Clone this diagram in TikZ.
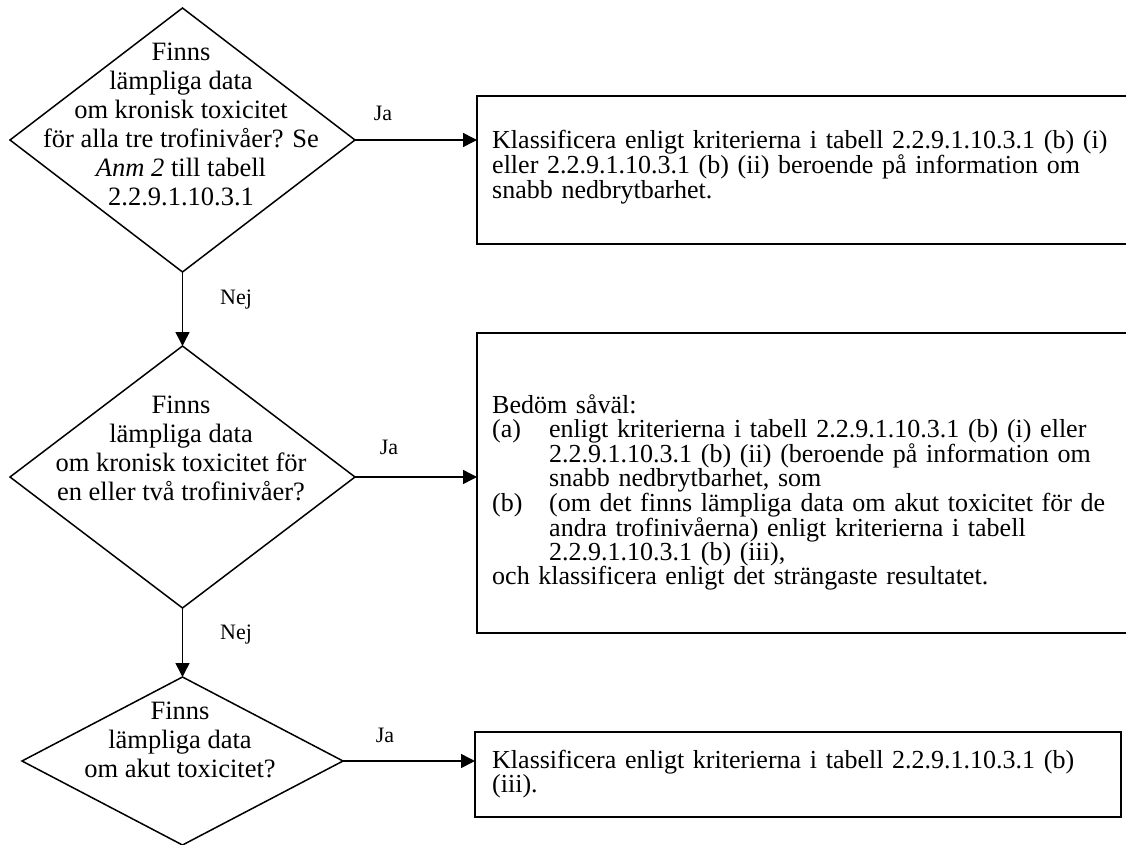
\documentclass[tikz,border=0pt]{standalone}
\usepackage{fontspec}
\setmainfont{Liberation Serif}
\usetikzlibrary{shapes.geometric,arrows.meta}
\begin{document}
\begin{tikzpicture}[x=1pt,y=-1pt,
  dia/.style={draw, diamond, line width=1.5pt, inner sep=0pt, outer sep=0pt},
  dtext/.style={anchor=north, inner sep=0pt, align=center, font=\fontsize{26.5}{29}\selectfont},
  box/.style={draw, line width=2pt, inner sep=0pt, outer sep=0pt, anchor=north west},
  btext/.style={anchor=north west, inner sep=0pt, align=left, font=\fontsize{26}{24.2}\selectfont},
  conn/.style={line width=1.5pt, -{Triangle[length=14pt,width=14pt]}},
  lbl/.style={inner sep=0pt, font=\fontsize{22}{24}\selectfont}]
\useasboundingbox (0,0) rectangle (1126,845);

% decision diamonds
\node[dia, minimum width=345pt, minimum height=264pt] (d1) at (182.5,140) {};
\node[dia, minimum width=345pt, minimum height=262pt] (d2) at (182.5,477) {};
\node[dia, minimum width=321pt, minimum height=168pt] (d3) at (182.5,761) {};

\node[dtext] (q1) at (181,43) {Finns\\lämpliga data\\om kronisk toxicitet\\för alla tre trofinivåer? Se\\\textit{Anm 2} till tabell\\2.2.9.1.10.3.1};
\node[dtext] (q2) at (181,396) {Finns\\lämpliga data\\om kronisk toxicitet för\\en eller två trofinivåer?};
\node[dtext] (q3) at (180,702) {Finns\\lämpliga data\\om akut toxicitet?};

% result boxes
\node[box, minimum width=660pt, minimum height=148pt] (b1) at (477,96) {};
\node[box, minimum width=660pt, minimum height=300pt] (b2) at (477,333) {};
\node[box, minimum width=646pt, minimum height=85pt] (b3) at (475,732) {};

\node[btext, text width=623pt] (r1) at (492,130) {\noindent\makebox[623pt][s]{Klassificera enligt kriterierna i tabell 2.2.9.1.10.3.1 (b) (i)}\\\makebox[623pt][s]{eller 2.2.9.1.10.3.1 (b) (ii) beroende på information om}\\snabb nedbrytbarhet.};

\node[btext, text width=623pt] (r2) at (492,394) {\noindent Bedöm såväl:\\
\makebox[57pt][l]{(a)}\makebox[566pt][s]{enligt kriterierna i tabell 2.2.9.1.10.3.1 (b) (i) eller}\\
\hspace*{57pt}\makebox[566pt][s]{2.2.9.1.10.3.1 (b) (ii) (beroende på information om}\\
\hspace*{57pt}snabb nedbrytbarhet, som\\
\makebox[57pt][l]{(b)}\makebox[566pt][s]{(om det finns lämpliga data om akut toxicitet för de}\\
\hspace*{57pt}\makebox[566pt][s]{andra trofinivåerna) enligt kriterierna i tabell}\\
\hspace*{57pt}2.2.9.1.10.3.1 (b) (iii),\\
och klassificera enligt det strängaste resultatet.};

\node[btext, text width=619pt] (r3) at (492,750.2) {\noindent\makebox[619pt][s]{Klassificera enligt kriterierna i tabell 2.2.9.1.10.3.1 (b)}\\(iii).};

% connectors
\draw[conn] (d1.east) -- (d1.east -| b1.west);
\draw[conn] (d1.south) -- (d2.north);
\draw[conn] (d2.east) -- (d2.east -| b2.west);
\draw[conn] (d2.south) -- (d3.north);
\draw[conn] (d3.east) -- (d3.east -| b3.west);

% labels
\node[lbl] (ja1) at (383,113) {Ja};
\node[lbl] (nej1) at (236,300) {Nej};
\node[lbl] (ja2) at (389,447) {Ja};
\node[lbl] (nej2) at (236,635) {Nej};
\node[lbl] (ja3) at (385,735) {Ja};
\end{tikzpicture}
\end{document}
